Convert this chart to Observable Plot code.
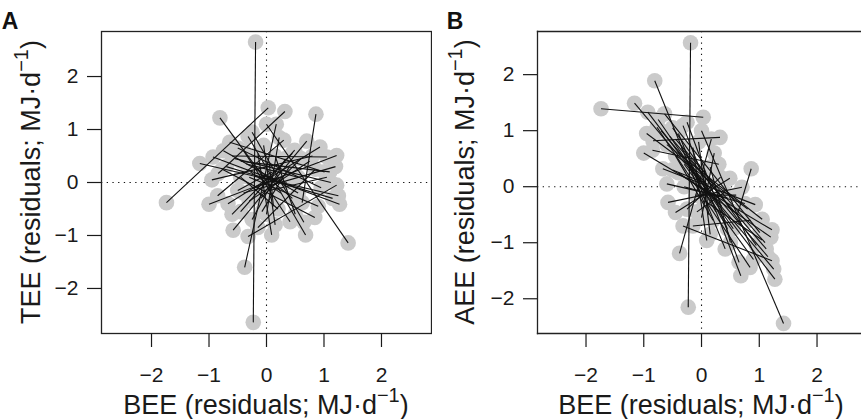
<!DOCTYPE html>
<html><head><meta charset="utf-8">
<script src="https://cdn.jsdelivr.net/npm/d3@7"></script>
<script src="https://cdn.jsdelivr.net/npm/@observablehq/plot@0.6"></script>
<style>
html,body{margin:0;padding:0;background:#fff}
body{width:861px;height:419px;overflow:hidden;position:relative;font-family:"Liberation Sans",Arial,sans-serif}
.panel{position:absolute;top:0;height:419px;overflow:hidden}
.panel svg{max-width:none !important}
</style></head><body>
<div id="pa" class="panel" style="left:0;width:432px"></div>
<div id="pb" class="panel" style="left:430px;width:431px"></div>
<script>
// Each pair: two individuals linked by a segment. BEE residual (x) shared by both panels.
const bee1 = [-0.19,-1.74,1.42,-0.81,0.86,-1.16,-0.93,-1.00,-0.84,-0.67,-0.64,-0.58,-0.32,-0.32,-0.38,0.84,0.41,0.09,0.49,1.12,1.05,0.33,-0.20,0.10,-0.10,0.20,0.55,0.25,0.00,-0.30,0.40,0.15,0.05,0.35,0.12,0.30,-0.70,-0.50,-0.95,-0.40,-0.60,-0.25,-0.85,-0.15,-0.45,0.15,-0.75,-0.30];
const bee2 = [-0.23,0.03,0.00,0.05,0.62,1.25,1.27,1.22,0.32,0.93,1.01,0.70,0.68,1.22,0.17,-0.77,-0.40,-0.15,-0.45,-0.55,-0.60,-0.25,0.45,-0.50,0.60,-0.45,-0.35,-0.28,0.22,0.75,-0.08,0.50,1.05,-0.10,0.05,-0.20,1.15,0.95,0.80,1.20,0.45,0.65,0.30,0.85,1.10,-0.05,0.55,0.90];
// TEE residuals (panel A)
const tee1 = [2.65,-0.38,-1.14,1.22,1.29,0.36,0.48,-0.41,0.17,-0.40,0.76,-0.90,0.87,-1.02,-1.60,-0.66,-0.74,-0.99,0.61,0.00,0.48,0.45,0.30,0.20,-0.30,-0.50,0.10,-0.20,-0.60,-0.35,0.30,0.50,-0.15,0.00,-0.45,0.12,0.30,0.65,0.05,-0.20,-0.60,0.95,-0.25,-0.85,0.40,-0.80,0.60,0.10];
const tee2 = [-2.64,1.41,1.10,-0.05,-0.38,-0.25,-0.41,0.51,1.34,0.67,0.20,0.78,-0.99,-0.05,1.10,0.25,0.60,0.55,-0.55,0.45,0.50,-0.70,-0.30,-0.15,0.45,0.10,0.35,0.20,0.85,0.40,-0.55,-0.60,0.10,0.15,0.35,-0.10,-0.30,-0.10,0.50,0.30,0.55,-0.75,0.80,0.25,0.20,0.70,-0.20,-0.45];
// AEE residuals (panel B)
const aee1 = [2.57,1.39,-2.44,1.89,0.32,1.49,1.33,0.60,0.82,0.32,1.30,-0.28,1.09,-0.70,-1.19,-1.44,-1.11,-0.96,0.15,-1.11,-0.58,0.17,0.45,0.05,-0.15,-0.60,-0.45,-0.45,-0.55,0.00,-0.10,0.35,-0.25,-0.35,-0.50,-0.20,1.00,1.05,0.95,0.25,0.05,1.15,0.65,-0.70,0.85,-0.85,1.20,0.40];
const aee2 = [-2.15,1.24,1.00,-0.30,-0.50,-1.47,-1.65,-0.77,0.88,-0.32,-0.82,-0.01,-1.59,-1.32,0.85,1.06,0.95,0.70,-0.46,0.90,0.75,-0.40,-0.75,0.30,-0.15,0.55,0.70,0.50,0.60,-0.30,-0.45,-1.00,-0.95,0.25,0.30,0.10,-1.25,-1.05,-0.40,-0.90,-0.20,-1.35,0.40,-0.60,-1.00,0.80,-0.75,-1.30];
const tickValues = [-2,-1,0,1,2];
const panelLabels = ["A","B"];
const yTitles = ["TEE","AEE"];
const xTitle = "BEE";

const pairs = bee1.map((_, i) => ({x1: bee1[i], x2: bee2[i], t1: tee1[i], t2: tee2[i], a1: aee1[i], a2: aee2[i]}));
const FONT = '"Liberation Sans", Arial, Helvetica, sans-serif';
const fmt = d => (d < 0 ? "\u2212" + Math.abs(d) : String(d));

function addTitle(sel, x, y, rotate, main, size) {
  const t = sel.append("text")
    .attr("transform", `translate(${x},${y})` + (rotate ? " rotate(-90)" : ""))
    .attr("text-anchor", "middle")
    .attr("font-family", FONT)
    .style("font-size", size + "px")
    .attr("fill", "#1a1a1a");
  t.append("tspan").text(main + " (residuals; MJ·d");
  t.append("tspan").attr("dy", -12).style("font-size", (size * 0.74) + "px").text("−1");
  t.append("tspan").attr("dy", 12).text(")");
}

function makePanel(k1, k2, opt) {
  const pts = pairs.flatMap(p => [{x: p.x1, y: p[k1]}, {x: p.x2, y: p[k2]}]);
  const frameMarks = opt.open
    ? [Plot.frame({anchor: "top", stroke: "#222", strokeWidth: 1.3}),
       Plot.frame({anchor: "bottom", stroke: "#222", strokeWidth: 1.3}),
       Plot.frame({anchor: "left", stroke: "#222", strokeWidth: 1.3})]
    : [Plot.frame({stroke: "#222", strokeWidth: 1.3})];
  const svg = Plot.plot({
    width: opt.width, height: 419,
    marginLeft: opt.marginLeft, marginRight: opt.marginRight, marginTop: 31, marginBottom: 86,
    style: {fontFamily: FONT, color: "#1a1a1a", background: "transparent"},
    x: {domain: opt.xDomain},
    y: {domain: opt.yDomain},
    marks: [
      Plot.ruleX([0], {stroke: "#111", strokeWidth: 1.1, strokeDasharray: "1.3,4.4"}),
      Plot.ruleY([0], {stroke: "#111", strokeWidth: 1.1, strokeDasharray: "1.3,4.4"}),
      Plot.dot(pts, {x: "x", y: "y", r: 7.8, fill: "#cacaca", stroke: null}),
      Plot.link(pairs, {x1: "x1", y1: k1, x2: "x2", y2: k2, stroke: "#111", strokeWidth: 1.1}),
      ...frameMarks,
      Plot.axisX({ticks: tickValues, tickFormat: fmt, tickSize: 14, tickPadding: 20, label: null}),
      Plot.axisY({ticks: tickValues, tickFormat: fmt, tickSize: 14, tickPadding: 9, label: null})
    ]
  });
  const s = d3.select(svg);
  s.selectAll("g[aria-label$='tick label'] text").style("font-size", "21px");
  s.selectAll("g[aria-label$='tick']").attr("stroke-width", 1.2);
  addTitle(s, opt.xTitleX, 414, false, xTitle, 27);
  addTitle(s, opt.yTitleX, 182, true, opt.yTitle, 27);
  s.append("text").attr("x", opt.labelX).attr("y", 29)
    .attr("font-family", FONT).attr("font-weight", "bold").style("font-size", "23px")
    .attr("fill", "#111").text(opt.label);
  return svg;
}

document.getElementById("pa").append(makePanel("t1", "t2", {
  width: 432, marginLeft: 101, marginRight: 1,
  xDomain: [-2.87, 2.87], yDomain: [-2.85, 2.85], open: false,
  yTitle: yTitles[0], yTitleX: 40, xTitleX: 266, label: panelLabels[0], labelX: 10
}));
document.getElementById("pb").append(makePanel("a1", "a2", {
  width: 431, marginLeft: 107, marginRight: 0,
  xDomain: [-2.84, 2.77], yDomain: [-2.62, 2.77], open: true,
  yTitle: yTitles[1], yTitleX: 44, xTitleX: 271, label: panelLabels[1], labelX: 25
}));
</script>
</body></html>
